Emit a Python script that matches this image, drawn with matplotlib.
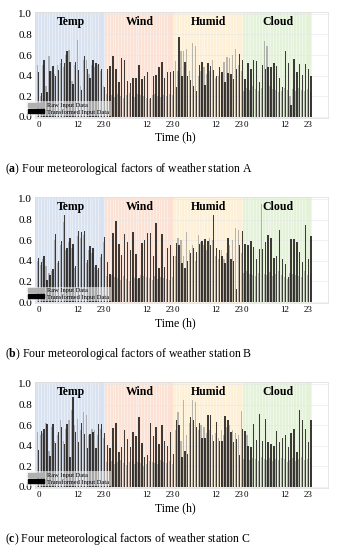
import numpy as np
import matplotlib
matplotlib.use('Agg')
import matplotlib.pyplot as plt
from matplotlib.patches import Patch

plt.rcParams['font.family'] = ['Liberation Serif', 'DejaVu Serif']
plt.rcParams['mathtext.fontset'] = 'custom'
plt.rcParams['mathtext.rm'] = 'Liberation Serif'
plt.rcParams['mathtext.bf'] = 'Liberation Serif:bold'

factors = ['Temp', 'Wind', 'Humid', 'Cloud']
hour_ticks = ['0', '12', '23']
stations = ['A', 'B', 'C']
panel_tags = ['a', 'b', 'c']

# station A
temp_a = [0.44, 0.23, 0.55, 0.24, 0.45, 0.49, 0.40, 0.46, 0.56, 0.52, 0.64, 0.53, 0.32, 0.53, 0.46, 0.26, 0.59, 0.47, 0.38, 0.55, 0.52, 0.51, 0.47, 0.29]
temp_a_raw = [0.50, 0.20, 0.50, 0.30, 0.59, 0.45, 0.42, 0.50, 0.52, 0.48, 0.60, 0.65, 0.35, 0.50, 0.75, 0.30, 0.55, 0.55, 0.42, 0.50, 0.48, 0.50, 0.45, 0.30]
wind_a = [0.47, 0.49, 0.59, 0.47, 0.34, 0.57, 0.55, 0.35, 0.33, 0.38, 0.38, 0.50, 0.37, 0.40, 0.44, 0.18, 0.40, 0.41, 0.48, 0.53, 0.38, 0.44, 0.44, 0.45]
wind_a_raw = [0.22, 0.20, 0.21, 0.19, 0.22, 0.20, 0.18, 0.21, 0.23, 0.20, 0.19, 0.22, 0.21, 0.20, 0.18, 0.17, 0.21, 0.22, 0.20, 0.19, 0.21, 0.20, 0.22, 0.21]
humid_a = [0.29, 0.78, 0.40, 0.53, 0.40, 0.36, 0.30, 0.25, 0.50, 0.53, 0.31, 0.52, 0.49, 0.46, 0.40, 0.48, 0.44, 0.34, 0.43, 0.42, 0.37, 0.47, 0.61, 0.55]
humid_a_raw = [0.54, 0.45, 0.64, 0.64, 0.66, 0.45, 0.72, 0.69, 0.40, 0.45, 0.48, 0.42, 0.45, 0.55, 0.38, 0.40, 0.42, 0.53, 0.58, 0.57, 0.60, 0.66, 0.50, 0.45]
cloud_a = [0.37, 0.52, 0.47, 0.55, 0.54, 0.34, 0.50, 0.47, 0.48, 0.48, 0.52, 0.49, 0.38, 0.29, 0.64, 0.52, 0.12, 0.56, 0.44, 0.51, 0.41, 0.51, 0.47, 0.40]
cloud_a_raw = [0.25, 0.28, 0.26, 0.30, 0.27, 0.25, 0.28, 0.74, 0.69, 0.30, 0.27, 0.26, 0.24, 0.25, 0.28, 0.26, 0.20, 0.27, 0.25, 0.28, 0.26, 0.25, 0.27, 0.24]

# station B
temp_b = [0.43, 0.39, 0.45, 0.21, 0.26, 0.32, 0.66, 0.40, 0.59, 0.84, 0.52, 0.62, 0.56, 0.35, 0.69, 0.68, 0.69, 0.41, 0.54, 0.52, 0.36, 0.33, 0.47, 0.63]
temp_b_raw = [0.40, 0.36, 0.42, 0.35, 0.28, 0.30, 0.60, 0.38, 0.55, 0.78, 0.50, 0.58, 0.52, 0.33, 0.64, 0.62, 0.65, 0.38, 0.50, 0.48, 0.34, 0.31, 0.44, 0.58]
wind_b = [0.39, 0.27, 0.67, 0.79, 0.56, 0.46, 0.66, 0.58, 0.50, 0.68, 0.47, 0.23, 0.57, 0.60, 0.67, 0.67, 0.45, 0.77, 0.33, 0.66, 0.34, 0.52, 0.55, 0.45]
wind_b_raw = [0.25, 0.22, 0.26, 0.24, 0.23, 0.21, 0.25, 0.22, 0.20, 0.24, 0.23, 0.22, 0.26, 0.25, 0.24, 0.23, 0.21, 0.25, 0.22, 0.24, 0.23, 0.22, 0.21, 0.24]
humid_b = [0.57, 0.55, 0.38, 0.33, 0.40, 0.48, 0.52, 0.49, 0.56, 0.59, 0.61, 0.59, 0.55, 0.84, 0.52, 0.50, 0.45, 0.38, 0.62, 0.42, 0.40, 0.13, 0.55, 0.69]
humid_b_raw = [0.45, 0.62, 0.60, 0.45, 0.68, 0.50, 0.55, 0.40, 0.65, 0.58, 0.55, 0.50, 0.62, 0.60, 0.45, 0.42, 0.50, 0.42, 0.48, 0.55, 0.60, 0.72, 0.70, 0.48]
cloud_b = [0.56, 0.55, 0.59, 0.53, 0.42, 0.51, 0.51, 0.58, 0.65, 0.62, 0.43, 0.45, 0.70, 0.42, 0.37, 0.24, 0.61, 0.61, 0.58, 0.49, 0.39, 0.75, 0.42, 0.64]
cloud_b_raw = [0.28, 0.30, 0.27, 0.26, 0.25, 0.28, 0.95, 0.27, 0.26, 0.29, 0.25, 0.27, 0.30, 0.26, 0.24, 0.22, 0.28, 0.27, 0.26, 0.25, 0.24, 0.30, 0.26, 0.27]

# station C
temp_c = [0.36, 0.54, 0.56, 0.61, 0.30, 0.61, 0.43, 0.53, 0.58, 0.42, 0.61, 0.29, 0.87, 0.53, 0.44, 0.62, 0.51, 0.38, 0.51, 0.53, 0.38, 0.61, 0.61, 0.52]
temp_c_raw = [0.53, 0.50, 0.52, 0.62, 0.35, 0.58, 0.45, 0.50, 0.65, 0.45, 0.56, 0.65, 0.75, 0.60, 0.66, 0.55, 0.73, 0.70, 0.50, 0.56, 0.55, 0.50, 0.56, 0.48]
wind_c = [0.41, 0.38, 0.57, 0.62, 0.34, 0.39, 0.55, 0.47, 0.39, 0.53, 0.49, 0.68, 0.43, 0.29, 0.31, 0.62, 0.49, 0.58, 0.42, 0.60, 0.45, 0.40, 0.53, 0.32]
wind_c_raw = [0.24, 0.23, 0.25, 0.22, 0.24, 0.26, 0.23, 0.21, 0.24, 0.25, 0.22, 0.24, 0.23, 0.20, 0.22, 0.25, 0.24, 0.23, 0.22, 0.26, 0.24, 0.23, 0.25, 0.22]
humid_c = [0.65, 0.60, 0.29, 0.35, 0.32, 0.68, 0.65, 0.58, 0.62, 0.48, 0.48, 0.70, 0.70, 0.45, 0.63, 0.45, 0.45, 0.69, 0.65, 0.53, 0.44, 0.47, 0.31, 0.56]
humid_c_raw = [0.55, 0.73, 0.45, 0.84, 0.50, 0.62, 0.84, 0.82, 0.55, 0.60, 0.58, 0.52, 0.55, 0.50, 0.52, 0.48, 0.55, 0.50, 0.58, 0.60, 0.55, 0.52, 0.50, 0.74]
cloud_c = [0.54, 0.40, 0.39, 0.61, 0.46, 0.71, 0.45, 0.66, 0.44, 0.42, 0.40, 0.54, 0.44, 0.48, 0.50, 0.39, 0.52, 0.56, 0.34, 0.75, 0.65, 0.56, 0.44, 0.65]
cloud_c_raw = [0.27, 0.50, 0.26, 0.28, 0.27, 0.25, 0.29, 0.27, 0.26, 0.28, 0.25, 0.27, 0.26, 0.28, 0.27, 0.24, 0.26, 0.28, 0.25, 0.27, 0.29, 0.26, 0.27, 0.28]

transformed = [temp_a + wind_a + humid_a + cloud_a,
               temp_b + wind_b + humid_b + cloud_b,
               temp_c + wind_c + humid_c + cloud_c]
raw = [temp_a_raw + wind_a_raw + humid_a_raw + cloud_a_raw,
       temp_b_raw + wind_b_raw + humid_b_raw + cloud_b_raw,
       temp_c_raw + wind_c_raw + humid_c_raw + cloud_c_raw]

bg_colors = ['#d9e2f1', '#fbe2d4', '#fdf0d6', '#e4f2da']

fig = plt.figure(figsize=(3.37, 5.5), dpi=100)
bottoms = [0.7855, 0.449, 0.1127]

for p in range(3):
    ax = fig.add_axes([0.104, bottoms[p], 0.869, 0.193])
    x = np.arange(96)
    ax.set_xlim(-1, 101)
    ax.set_ylim(-0.01, 1.02)

    for g in range(4):
        left = -1 if g == 0 else g * 24 - 0.5
        ax.axvspan(left, g * 24 + 23.5, color=bg_colors[g], zorder=0.1, lw=0)
        ax.text(g * 24 + 11.5, 0.925, factors[g], ha='center', va='center',
                fontsize=8.5, fontweight='bold', zorder=5)

    ax.bar(x - 0.18, raw[p], width=0.45, color='#8c8c8c', alpha=0.6, zorder=2, lw=0)
    ax.bar(x + 0.18, transformed[p], width=0.5, color='#161210', alpha=0.82, zorder=3, lw=0)

    tick_pos, tick_lab = [], []
    for g in range(4):
        for off, lab in zip([0.4, 13.8, 22.0], hour_ticks):
            tick_pos.append(g * 24 + off)
            tick_lab.append(lab)
    ax.set_xticks(tick_pos)
    ax.set_xticklabels(tick_lab, fontsize=6.5)
    ax.set_xticks(np.arange(96), minor=True)
    ax.set_yticks(np.arange(0, 1.01, 0.2))
    ax.set_yticklabels(['%.1f' % v for v in np.arange(0, 1.01, 0.2)], fontsize=8)
    ax.tick_params(axis='both', which='both', length=0, pad=2)
    ax.grid(which='minor', axis='x', color='white', lw=0.5, alpha=0.6, zorder=0.5)
    ax.grid(which='major', axis='y', color='#e6e6e6', lw=0.4, zorder=0.5)
    ax.set_axisbelow(True)
    for s in ax.spines.values():
        s.set_color('#dddddd')
        s.set_linewidth(0.5)

    ax.set_xlabel('Time (h)', fontsize=8.5)
    ax.xaxis.set_label_coords(0.48, -0.13)

    handles = [Patch(color='#b0b0b0', label='Raw Input Data'),
               Patch(color='black', label='Transformed Input Data')]
    leg = ax.legend(handles=handles, loc='lower left', bbox_to_anchor=(-0.03, 0.02),
                    fontsize=4.6, frameon=True, handlelength=2.6, handleheight=0.6,
                    borderpad=0.2, labelspacing=0.15, handletextpad=0.5,
                    borderaxespad=0, fancybox=False)
    leg.get_frame().set_facecolor('#f4f4f4')
    leg.get_frame().set_alpha(0.6)
    leg.get_frame().set_linewidth(0)
    leg.set_zorder(6)

    fig.text(0.015, bottoms[p] - 0.092,
             r'($\mathbf{%s}$) Four meteorological factors of weather station %s' % (panel_tags[p], stations[p]),
             fontsize=8.5, ha='left', va='center')

fig.savefig('out.png', dpi=100)
